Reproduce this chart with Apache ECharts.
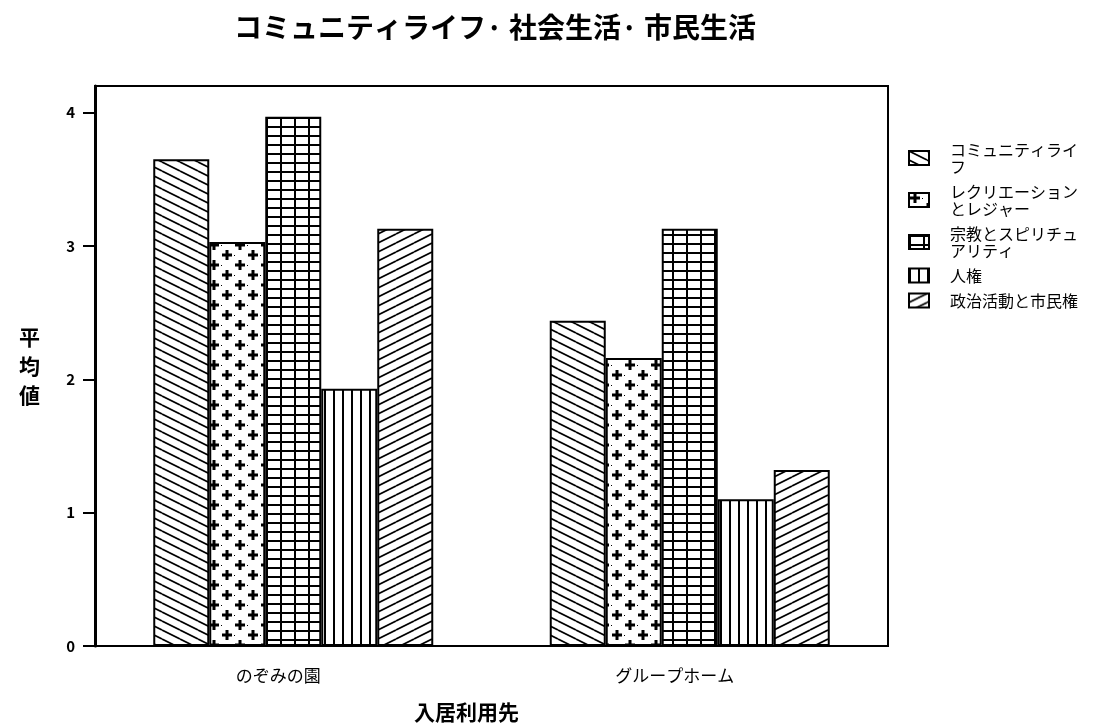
<!DOCTYPE html>
<html>
<head>
<meta charset="utf-8">
<script src="https://cdn.jsdelivr.net/npm/echarts@6/dist/echarts.min.js"></script>
<style>
  html, body { margin: 0; padding: 0; background: #fff; }
  #chart { width: 1116px; height: 728px; }
</style>
</head>
<body>
<div id="chart"></div>
<script>
// ---- data ----
const categories = ['のぞみの園', 'グループホーム'];
const seriesNames = ['コミュニティライフ', 'レクリエーションとレジャー', '宗教とスピリチュアリティ', '人権', '政治活動と市民権'];
const community = [3.65, 2.44];
const recreation = [3.03, 2.16];
const religion = [3.97, 3.13];
const humanRights = [1.93, 1.10];
const political = [3.13, 1.32];
const yTicks = [0, 1, 2, 3, 4];
const titleText = 'コミュニティライフ· 社会生活· 市民生活';
const xName = '入居利用先';
const yName = '平\n均\n値';

// ---- fill patterns ----
function makePattern(draw, w, h) {
  const c = document.createElement('canvas');
  c.width = w; c.height = h;
  const ctx = c.getContext('2d');
  ctx.fillStyle = '#fff';
  ctx.fillRect(0, 0, w, h);
  ctx.strokeStyle = '#000';
  ctx.fillStyle = '#000';
  draw(ctx, w, h);
  return { image: c, repeat: 'repeat' };
}
const patBackslash = makePattern(function (ctx, w, h) {
  ctx.lineWidth = 1.7;
  ctx.beginPath();
  for (let k = -1; k <= 1; k++) { ctx.moveTo(0, k * h); ctx.lineTo(w, k * h + h); }
  ctx.stroke();
}, 18, 9);
const patPlus = makePattern(function (ctx) {
  [[6, 5], [19, 15]].forEach(function (p) {
    ctx.fillRect(p[0] - 5, p[1] - 1.5, 10, 3);
    ctx.fillRect(p[0] - 1.5, p[1] - 5, 3, 10);
  });
  ctx.fillRect(13, 5, 1, 1);
  ctx.fillRect(0, 15, 1, 1);
}, 26, 20);
const patGrid = makePattern(function (ctx, w, h) {
  ctx.fillRect(0, 0, 2, h);
  ctx.fillRect(0, 0, w, 2);
}, 14, 9);
const patVertical = makePattern(function (ctx, w, h) {
  ctx.fillRect(0, 0, 2, h);
}, 9, 4);
const patSlash = makePattern(function (ctx, w, h) {
  ctx.lineWidth = 1.7;
  ctx.beginPath();
  for (let k = -1; k <= 1; k++) { ctx.moveTo(0, k * h + h); ctx.lineTo(w, k * h); }
  ctx.stroke();
}, 18, 9);

const FONT = '"Noto Sans CJK JP", "Noto Sans", sans-serif';
const values = [community, recreation, religion, humanRights, political];
const patterns = [patBackslash, patPlus, patGrid, patVertical, patSlash];

const series = seriesNames.map(function (name, i) {
  return {
    name: name,
    type: 'bar',
    data: values[i],
    barWidth: 56,
    barGap: '0%',
    itemStyle: { color: patterns[i], borderColor: '#000', borderWidth: 2 },
    emphasis: { disabled: true }
  };
});

const chart = echarts.init(document.getElementById('chart'), null, { renderer: 'canvas' });
chart.setOption({
  animation: false,
  backgroundColor: '#fff',
  textStyle: { fontFamily: FONT, color: '#000' },
  title: {
    text: titleText,
    left: 490,
    textAlign: 'center',
    top: 8,
    textStyle: { fontFamily: FONT, fontSize: 28, fontWeight: 'bold', color: '#000' }
  },
  legend: {
    orient: 'vertical',
    left: 903,
    top: 136,
    icon: 'rect',
    itemWidth: 20,
    itemHeight: 14,
    itemGap: 8,
    data: seriesNames,
    selectedMode: false,
    textStyle: { fontFamily: FONT, fontSize: 16, color: '#000', width: 134, overflow: 'break', lineHeight: 17, padding: [0, 0, 0, 16] }
  },
  grid: {
    left: 95, right: 228, top: 86, bottom: 77,
    show: true, borderColor: '#000', borderWidth: 2, backgroundColor: '#fff'
  },
  xAxis: {
    type: 'category',
    data: categories,
    name: xName,
    nameLocation: 'middle',
    nameGap: 56,
    nameTextStyle: { fontFamily: FONT, fontSize: 21, fontWeight: 'bold', color: '#000', padding: [0, 50, 0, 0] },
    axisLine: { lineStyle: { color: '#000', width: 2 } },
    axisTick: { alignWithLabel: true, length: 14, lineStyle: { color: '#000', width: 2 } },
    axisLabel: { fontFamily: FONT, fontSize: 17, color: '#000', margin: 21, padding: [0, 30, 0, 0] }
  },
  yAxis: {
    type: 'value',
    min: 0,
    max: 4.2,
    interval: 1,
    name: yName,
    nameLocation: 'middle',
    nameRotate: 0,
    nameGap: 55,
    nameTextStyle: { fontFamily: FONT, fontSize: 21, fontWeight: 'bold', color: '#000', lineHeight: 29 },
    splitLine: { show: false },
    axisLine: { show: true, lineStyle: { color: '#000', width: 3 } },
    axisTick: { show: true, length: 12, customValues: yTicks, lineStyle: { color: '#000', width: 2 } },
    axisLabel: { fontFamily: FONT, fontSize: 15, fontWeight: 'bold', color: '#000', margin: 20, customValues: yTicks }
  },
  series: series
});
</script>
</body>
</html>
